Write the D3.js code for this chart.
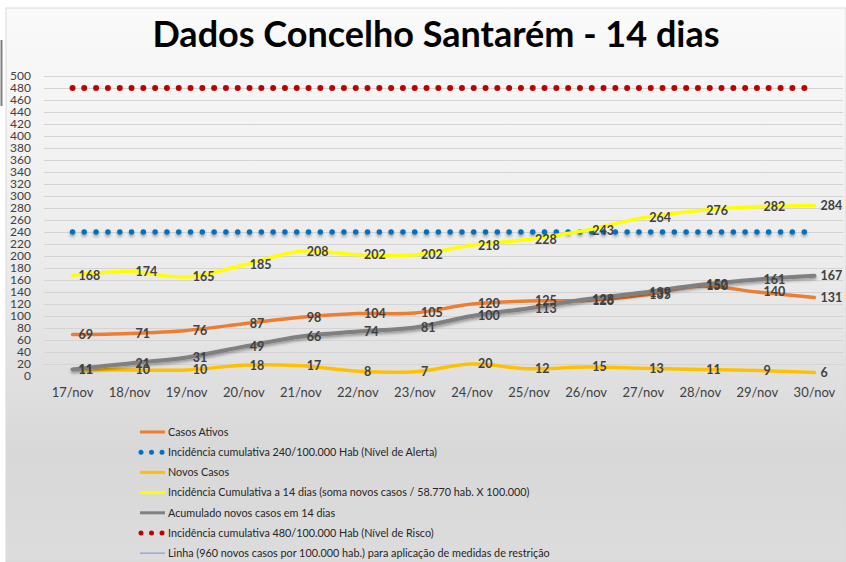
<!DOCTYPE html>
<html>
<head>
<meta charset="utf-8">
<script src="https://cdn.jsdelivr.net/npm/d3@7"></script>
<style>
  body { margin: 0; background: #fff; }
  text { font-family: Lato, "Open Sans", sans-serif; }
</style>
</head>
<body>
<div id="chart"></div>
<script>
// datos
const dias = ["17/nov","18/nov","19/nov","20/nov","21/nov","22/nov","23/nov","24/nov","25/nov","26/nov","27/nov","28/nov","29/nov","30/nov"]
const casosAtivos = [69, 71, 76, 87, 98, 104, 105, 120, 125, 126, 135, 150, 140, 131]
const novosCasos = [11, 10, 10, 18, 17, 8, 7, 20, 12, 15, 13, 11, 9, 6]
const incidencia14 = [168, 174, 165, 185, 208, 202, 202, 218, 228, 243, 264, 276, 282, 284]
const acumulado14 = [11, 21, 31, 49, 66, 74, 81, 100, 113, 128, 139, 152, 161, 167]
const nivelAlerta = 240
const nivelRisco = 480
const yTicks = d3.range(0, 501, 20)

const legendItems = [
    {name: "Casos Ativos", color: "#ED7D31", type: "line"},
    {name: "Incidência cumulativa 240/100.000 Hab (Nível de Alerta)", color: "#0070C0", type: "dots"},
    {name: "Novos Casos", color: "#FFC000", type: "line"},
    {name: "Incidência Cumulativa a 14 dias (soma novos casos / 58.770 hab. X 100.000)", color: "#FFFF00", type: "line"},
    {name: "Acumulado novos casos em 14 dias", color: "#808080", type: "line"},
    {name: "Incidência cumulativa 480/100.000 Hab (Nível de Risco)", color: "#C00000", type: "dots"},
    {name: "Linha (960 novos casos por 100.000 hab.) para aplicação de medidas de restrição", color: "#8FAADC", type: "thin"}
]

const width = 846
const height = 562

const svg = d3.select("div#chart").append("svg").attr("width", width).attr("height", height)
const defs = svg.append("defs")

const grad = defs.append("linearGradient").attr("id", "bg").attr("x1", 0).attr("y1", 0).attr("x2", 0).attr("y2", 1)
grad.append("stop").attr("offset", "0%").attr("stop-color", "#fafafa")
grad.append("stop").attr("offset", "45%").attr("stop-color", "#ececec")
grad.append("stop").attr("offset", "80%").attr("stop-color", "#d8d8d8")
grad.append("stop").attr("offset", "100%").attr("stop-color", "#dcdcdc")

// sombra (en coordenadas de usuario para que funcione con lineas horizontales)
const shadow = defs.append("filter").attr("id", "shadow").attr("filterUnits", "userSpaceOnUse")
    .attr("x", 0).attr("y", 0).attr("width", width).attr("height", height)
shadow.append("feGaussianBlur").attr("in", "SourceAlpha").attr("stdDeviation", 1.6)
shadow.append("feOffset").attr("dx", 0).attr("dy", 2).attr("result", "blur")
shadow.append("feFlood").attr("flood-color", "#000").attr("flood-opacity", 0.35)
shadow.append("feComposite").attr("in2", "blur").attr("operator", "in")
const merge = shadow.append("feMerge")
merge.append("feMergeNode")
merge.append("feMergeNode").attr("in", "SourceGraphic")

// fondo del grafico
svg.append("rect").attr("x", 6).attr("y", 8).attr("width", width - 6).attr("height", height - 8)
    .attr("fill", "url(#bg)").attr("stroke", "#d9d9d9")
svg.append("line").attr("x1", 1.5).attr("x2", 1.5).attr("y1", 40).attr("y2", 106).attr("stroke", "#7f7f7f").attr("stroke-width", 2)

svg.append("text")
    .attr("x", 436).attr("y", 47)
    .attr("text-anchor", "middle")
    .style("font-size", "36px").style("font-weight", "bold").style("fill", "#000")
    .text("Dados Concelho Santarém - 14 dias")

const plot = {left: 44, right: 843, top: 76, bottom: 376}
const x = d3.scaleBand().domain(dias).range([plot.left, plot.right])
const y = d3.scaleLinear().domain([0, 500]).range([plot.bottom, plot.top])
const px = d => x(d) + x.bandwidth() / 2

// lineas de la cuadricula
svg.append("g").attr("class", "grid").selectAll("line").data(yTicks.filter(t => t > 0)).join("line")
    .attr("x1", plot.left).attr("x2", plot.right)
    .attr("y1", d => y(d) + 0.5).attr("y2", d => y(d) + 0.5)
    .attr("stroke", "#d4d4d4").attr("stroke-width", 1)

const yAxisGroup = svg.append("g").attr("transform", `translate(${plot.left},0)`)
    .call(d3.axisLeft(y).tickValues(yTicks).tickSize(0).tickPadding(13))
yAxisGroup.select(".domain").remove()
yAxisGroup.selectAll("text").style("font-size", "12px").style("fill", "#404040").style("font-family", "Lato, sans-serif")

const xAxisGroup = svg.append("g").attr("transform", `translate(0,${plot.bottom})`)
    .call(d3.axisBottom(x).tickSize(0).tickPadding(12))
xAxisGroup.select(".domain").remove()
xAxisGroup.selectAll("text").style("font-size", "13px").style("fill", "#404040").style("font-family", "Lato, sans-serif")

const line = d3.line().x(d => px(d.dia)).y(d => y(d.v)).curve(d3.curveCatmullRom.alpha(0.5))
const toPts = vals => vals.map((v, i) => ({dia: dias[i], v: v}))
const flat = v => dias.map(d => ({dia: d, v: v}))

const series = [
    {vals: toPts(casosAtivos), color: "#ED7D31", w: 3.5, labels: true},
    {vals: flat(nivelAlerta), color: "#0070C0", w: 5.5, dots: true, shadow: true},
    {vals: toPts(novosCasos), color: "#FFC000", w: 3.5, labels: true},
    {vals: toPts(incidencia14), color: "#FFFF00", w: 3.5, labels: true},
    {vals: toPts(acumulado14), color: "#808080", w: 4, labels: true, shadow: true},
    {vals: flat(nivelRisco), color: "#C00000", w: 6, dots: true}
]

const elementGroup = svg.append("g").attr("class", "elementGroup")
series.forEach(s => {
    const p = elementGroup.append("path").datum(s.vals)
        .attr("d", line)
        .attr("fill", "none")
        .attr("stroke", s.color)
        .attr("stroke-width", s.w)
        .attr("stroke-linecap", "round")
    if (s.dots) p.attr("stroke-dasharray", "0 11.8")
    if (s.shadow) p.attr("filter", "url(#shadow)")
})

// etiquetas de datos a la derecha de cada punto
const labelGroup = svg.append("g").attr("class", "labels")
series.filter(s => s.labels).forEach(s => {
    labelGroup.selectAll(null).data(s.vals).join("text")
        .attr("x", d => px(d.dia) + 6)
        .attr("y", d => y(d.v))
        .attr("dy", "0.35em")
        .style("font-size", "12.5px").style("font-weight", "bold").style("fill", "#404040")
        .text(d => d.v)
})

// leyenda
const legend = svg.append("g").attr("class", "legend").attr("transform", "translate(140,432)")
const rows = legend.selectAll("g").data(legendItems).join("g")
    .attr("transform", (d, i) => `translate(0,${i * 20.2})`)
rows.each(function(d) {
    const g = d3.select(this)
    if (d.type === "dots") {
        g.selectAll("circle").data([0, 1, 2]).join("circle")
            .attr("cx", k => 1 + k * 10.5).attr("cy", 0).attr("r", 2.5).attr("fill", d.color)
    } else {
        g.append("line").attr("x1", 0).attr("x2", 25).attr("y1", 0).attr("y2", 0)
            .attr("stroke", d.color).attr("stroke-width", d.type === "thin" ? 1.5 : 3)
    }
    g.append("text").attr("x", 28).attr("y", 0).attr("dy", "0.35em")
        .style("font-size", "10.8px").style("fill", "#262626")
        .text(d.name)
})
</script>
</body>
</html>
